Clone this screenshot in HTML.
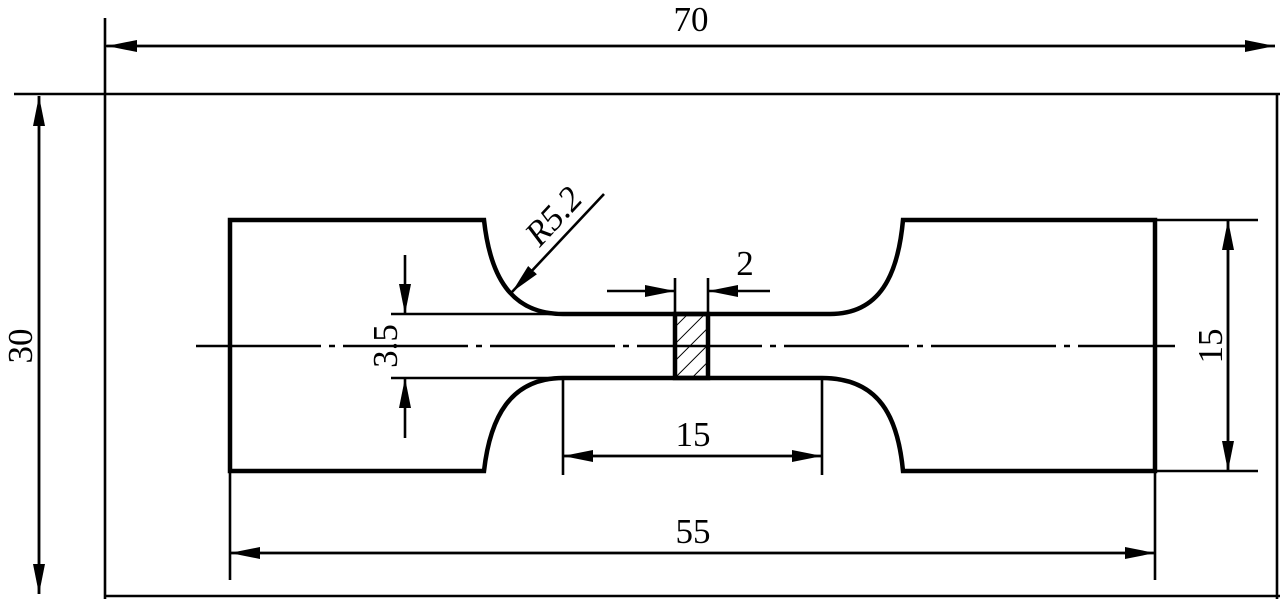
<!DOCTYPE html>
<html><head><meta charset="utf-8"><style>html,body{margin:0;padding:0;background:#fff}svg{display:block}</style></head>
<body>
<svg width="1280" height="599" viewBox="0 0 1280 599" xmlns="http://www.w3.org/2000/svg" font-family="Liberation Serif, serif" font-size="35">
<defs>
<marker id="a" viewBox="0 0 30 12" refX="30" refY="6" markerWidth="30" markerHeight="12" markerUnits="userSpaceOnUse" orient="auto"><path d="M0,0 L30,6 L0,12 Z" fill="#000"/></marker>
<pattern id="h" width="12" height="12" patternUnits="userSpaceOnUse" patternTransform="rotate(45)"><line x1="0" y1="0" x2="0" y2="12" stroke="#000" stroke-width="2"/></pattern>
</defs>
<g stroke="#000" stroke-width="2.6" fill="none">
<line x1="14" y1="94" x2="1280" y2="94"/>
<line x1="105" y1="18" x2="105" y2="599"/>
<line x1="1277" y1="94" x2="1277" y2="599"/>
<line x1="105" y1="596" x2="1280" y2="596"/>
<line x1="105" y1="46" x2="1275" y2="46" marker-end="url(#a)"/>
<line x1="1275" y1="46" x2="107" y2="46" marker-end="url(#a)"/>
<line x1="39" y1="96" x2="39" y2="594" marker-end="url(#a)"/>
<line x1="39" y1="594" x2="39" y2="96" marker-end="url(#a)"/>
<line x1="196" y1="346" x2="1175" y2="346" stroke-dasharray="125 8 6 8"/>
<line x1="391" y1="314" x2="563" y2="314"/>
<line x1="391" y1="378" x2="563" y2="378"/>
<line x1="405" y1="255" x2="405" y2="314" marker-end="url(#a)"/>
<line x1="405" y1="438" x2="405" y2="378" marker-end="url(#a)"/>
<line x1="675" y1="278" x2="675" y2="314"/>
<line x1="708" y1="278" x2="708" y2="314"/>
<line x1="607" y1="291" x2="675" y2="291" marker-end="url(#a)"/>
<line x1="770" y1="291" x2="708" y2="291" marker-end="url(#a)"/>
<line x1="563" y1="380" x2="563" y2="475"/>
<line x1="822" y1="380" x2="822" y2="475"/>
<line x1="563" y1="456" x2="822" y2="456" marker-end="url(#a)"/>
<line x1="822" y1="456" x2="563" y2="456" marker-end="url(#a)"/>
<line x1="230" y1="471" x2="230" y2="580"/>
<line x1="1155" y1="471" x2="1155" y2="580"/>
<line x1="230" y1="553" x2="1155" y2="553" marker-end="url(#a)"/>
<line x1="1155" y1="553" x2="230" y2="553" marker-end="url(#a)"/>
<line x1="1155" y1="220" x2="1258" y2="220"/>
<line x1="1155" y1="471" x2="1258" y2="471"/>
<line x1="1228" y1="220" x2="1228" y2="471" marker-end="url(#a)"/>
<line x1="1228" y1="471" x2="1228" y2="220" marker-end="url(#a)"/>
<line x1="604" y1="194" x2="512" y2="292" marker-end="url(#a)"/>
</g>
<path d="M230,220 L484,220 C490,275 510,314 563,314 L830,314 C880,314 898,275 903,220 L1155,220 L1155,471 L903,471 C898,418 880,378 822,378 L563,378 C510,378 490,418 484,471 L230,471 Z" fill="none" stroke="#000" stroke-width="4.5"/>
<rect x="675" y="314" width="33" height="64" fill="url(#h)" stroke="#000" stroke-width="4.5"/>
<g fill="#000">
<text x="691" y="31" text-anchor="middle">70</text>
<text x="693" y="446" text-anchor="middle">15</text>
<text x="693" y="543" text-anchor="middle">55</text>
<text x="745" y="275" text-anchor="middle">2</text>
<text transform="translate(32,346) rotate(-90)" text-anchor="middle">30</text>
<text transform="translate(397,346) rotate(-90)" text-anchor="middle">3.5</text>
<text transform="translate(1222,346) rotate(-90)" text-anchor="middle">15</text>
<text transform="translate(562,224) rotate(-47)" text-anchor="middle" font-style="italic">R5.2</text>
</g>
</svg>
</body></html>
